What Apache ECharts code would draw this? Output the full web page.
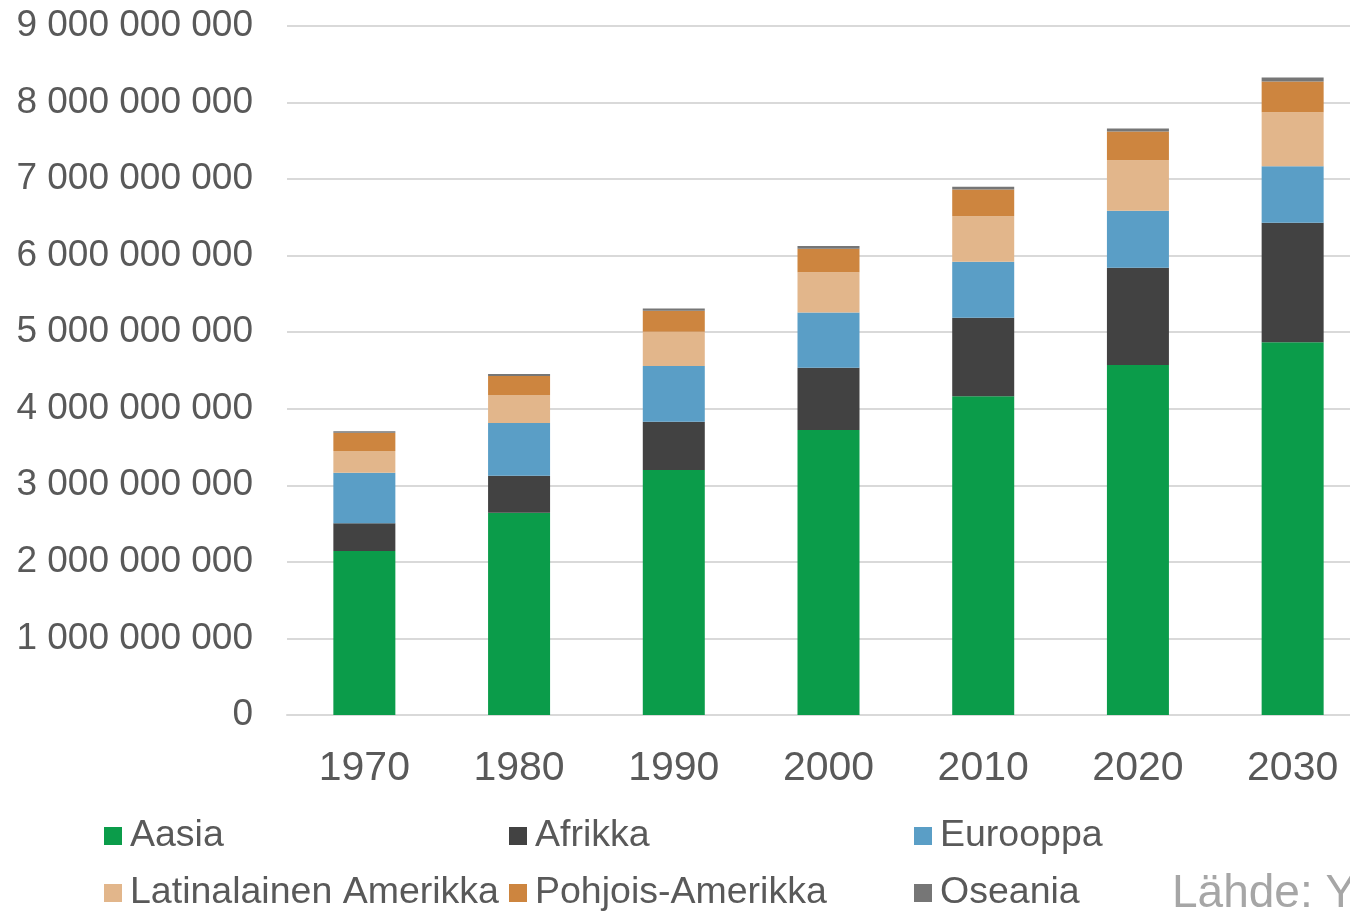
<!DOCTYPE html>
<html>
<head>
<meta charset="utf-8">
<script src="https://cdn.jsdelivr.net/npm/echarts@6/dist/echarts.min.js"></script>
<style>html,body{margin:0;padding:0;background:#fff}#c{width:1350px;height:911px}</style>
</head>
<body>
<div id="c"></div>
<script>
var years = ['1970','1980','1990','2000','2010','2020','2030'];
var aasia = [2141e6, 2641e6, 3198e6, 3721e6, 4164e6, 4569e6, 4869e6];
var afrikka = [362e6, 483e6, 631e6, 813e6, 1023e6, 1270e6, 1558e6];
var eurooppa = [660e6, 688e6, 727e6, 723e6, 731e6, 745e6, 740e6];
var latinalainen = [283e6, 366e6, 448e6, 526e6, 596e6, 661e6, 705e6];
var pohjois = [239e6, 248e6, 274e6, 305e6, 349e6, 375e6, 401e6];
var oseania = [20e6, 26e6, 31e6, 35e6, 34e6, 39e6, 52e6];
var yTicks = [0, 1e9, 2e9, 3e9, 4e9, 5e9, 6e9, 7e9, 8e9, 9e9];

var names = ['Aasia','Afrikka','Eurooppa','Latinalainen Amerikka','Pohjois-Amerikka','Oseania'];
var colors = ['#0b9c4a','#424242','#5a9ec6','#e2b68b','#cd853f','#767676'];
var datas = [aasia, afrikka, eurooppa, latinalainen, pohjois, oseania];

function fmt(v){
  var s = String(Math.round(v));
  return s.replace(/\B(?=(\d{3})+(?!\d))/g, ' ');
}

var font = 'Liberation Sans, Arial, sans-serif';
var legendCols = [104, 509, 914];
var legendRows = [815, 872];
var legends = names.map(function(n, i){
  return {
    left: legendCols[i % 3], top: legendRows[Math.floor(i / 3)], padding: 0,
    itemWidth: 18, itemHeight: 18, itemGap: 0, icon: 'rect',
    textStyle: {fontFamily: font, fontSize: 37.5, color: '#595959', lineHeight: 40, padding: [2,0,0,3]},
    data: [n]
  };
});

var chart = echarts.init(document.getElementById('c'));
chart.setOption({
  animation: false,
  color: colors,
  grid: {left: 287, width: 1083, top: 25.8, height: 689.2, containLabel: false, outerBoundsMode: 'none'},
  legend: legends,
  xAxis: {
    type: 'category', data: years,
    axisLine: {lineStyle: {color: '#d9d9d9', width: 2}},
    axisTick: {show: false},
    axisLabel: {fontFamily: font, fontSize: 41, color: '#595959', margin: 33}
  },
  yAxis: {
    type: 'value', min: 0, max: 9e9, interval: 1e9,
    axisLine: {show: false}, axisTick: {show: false},
    splitLine: {lineStyle: {color: '#d9d9d9', width: 2}},
    axisLabel: {fontFamily: font, fontSize: 37, color: '#595959', margin: 34, lineHeight: 37, padding: [8,0,0,0],
      formatter: function(v){ return yTicks.indexOf(v) >= 0 ? fmt(v) : ''; }}
  },
  series: names.map(function(n, i){
    return {name: n, type: 'bar', stack: 'tot', barWidth: 62, data: datas[i],
      itemStyle: {color: colors[i]}};
  }),
  graphic: [{
    type: 'text', left: 1172, top: 871,
    style: {text: 'Lähde: YK', fontFamily: font, fontSize: 46, fill: '#a6a6a6'}
  }]
});
</script>
</body>
</html>
